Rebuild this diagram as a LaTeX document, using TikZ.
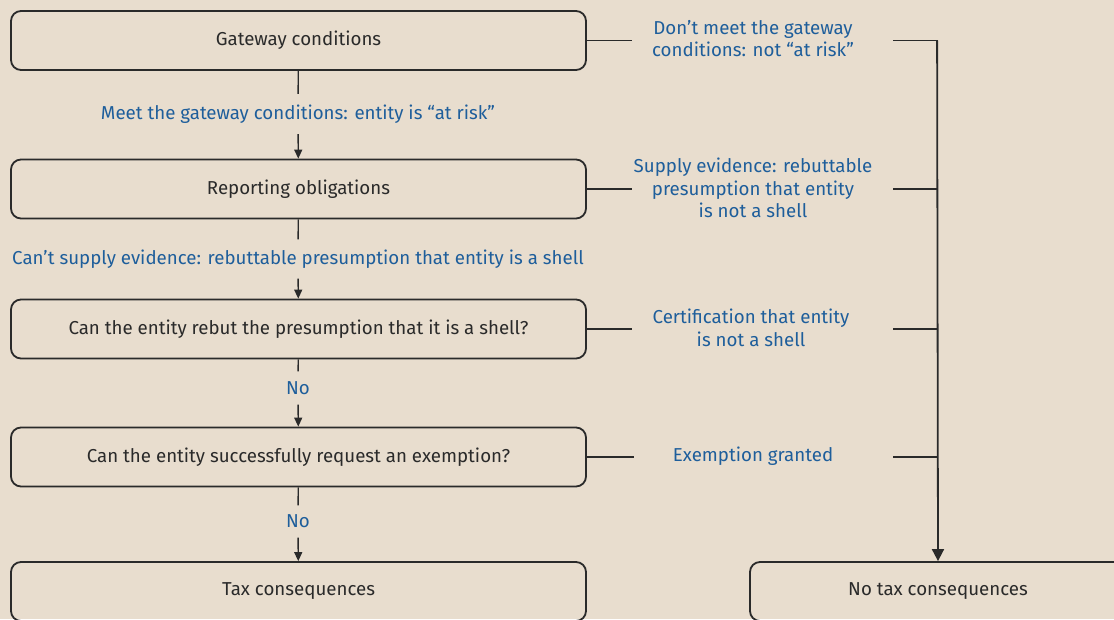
\documentclass[tikz,border=0pt]{standalone}
\usepackage{fontspec}
\setmainfont{Fira Sans}
\usetikzlibrary{arrows.meta}
\definecolor{bg}{HTML}{E8DDCE}
\definecolor{lbl}{HTML}{1E5E9B}
\definecolor{ink}{HTML}{2A2A2A}
\tikzset{
  x=1pt,y=-1pt,
  box/.style={draw=ink,line width=1.8pt,rounded corners=10pt,minimum width=575pt,minimum height=59pt,inner sep=0pt,text=ink,font=\fontsize{18.7}{22.5}\selectfont},
  lab/.style={text=lbl,font=\fontsize{18.7}{22.5}\selectfont,inner sep=0pt,align=center},
  conn/.style={draw=ink,line width=1.4pt},
  arr/.style={conn,-{Triangle[width=8pt,length=9pt]}},
  bigarr/.style={draw=ink,line width=1.8pt,-{Triangle[width=12pt,length=12pt]}}
}
\begin{document}
\begin{tikzpicture}
\fill[bg] (0,0) rectangle (1114,619);
\useasboundingbox (0,0) rectangle (1114,619);
\clip (0,0) rectangle (1114,619);
% left boxes
\node[box] (b1) at (298.5,40.5) {Gateway conditions};
\node[box] (b2) at (298.5,189) {Reporting obligations};
\node[box] (b3) at (298.5,329) {Can the entity rebut the presumption that it is a shell?};
\node[box] (b4) at (298.5,457) {Can the entity successfully request an exemption?};
\node[box] (b5) at (298.5,591.5) {Tax consequences};
\node[box,minimum width=376pt] (b6) at (938,591.5) {No tax consequences};
% left labels
\node[lab,minimum height=40pt] (l1) at (298,114) {Meet the gateway conditions: entity is “at risk”};
\node[lab,minimum height=39pt] (l2) at (298,259) {Can’t supply evidence: rebuttable presumption that entity is a shell};
\node[lab,minimum height=33pt] (l3) at (298,388) {No};
\node[lab,minimum height=32pt] (l4) at (298,521.5) {No};
\draw[conn] (b1) -- (l1);
\draw[arr] (l1) -- (b2);
\draw[conn] (b2) -- (l2);
\draw[arr] (l2) -- (b3);
\draw[conn] (b3) -- (l3);
\draw[arr] (l3) -- (b4);
\draw[conn] (b4) -- (l4);
\draw[arr] (l4) -- (b5);
% right labels
\node[lab] (r1) at (753,38.5) {Don’t meet the gateway\\conditions: not “at risk”};
\node[lab] (r2) at (753,188) {Supply evidence: rebuttable\\presumption that entity\\is not a shell};
\node[lab] (r3) at (751,328) {Certification that entity\\is not a shell};
\node[lab] (r4) at (753,456) {Exemption granted};
% stubs
\coordinate (a1) at (632,40.5); \coordinate (c1) at (893,40.5); \coordinate (j1) at (938,40.5);
\coordinate (a2) at (632,189); \coordinate (c2) at (893,189); \coordinate (j2) at (938,189);
\coordinate (a3) at (632,329); \coordinate (c3) at (893,329); \coordinate (j3) at (938,329);
\coordinate (a4) at (634,457); \coordinate (c4) at (893,457); \coordinate (j4) at (938,457);
\draw[conn] (b1.east) -- (a1);
\draw[conn] (b2.east) -- (a2);
\draw[conn] (b3.east) -- (a3);
\draw[conn] (b4.east) -- (a4);
\draw[conn] (c1) -- (j1);
\draw[conn] (c2) -- (j2);
\draw[conn] (c3) -- (j3);
\draw[conn] (c4) -- (j4);
\draw[bigarr] ([xshift=-0.9pt]j1) -- (j1 |- b6.north);
\end{tikzpicture}
\end{document}
